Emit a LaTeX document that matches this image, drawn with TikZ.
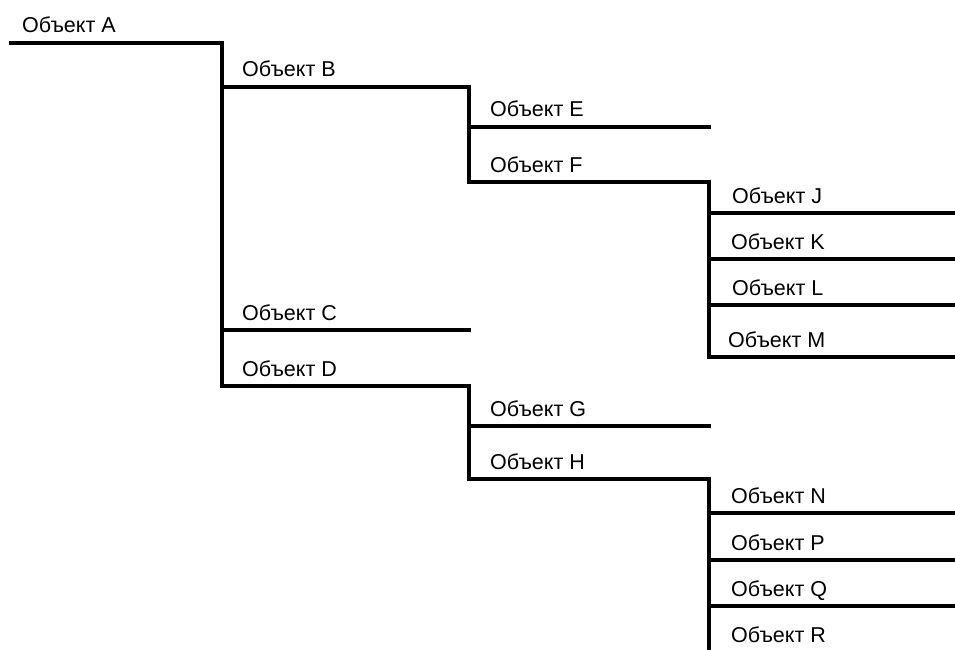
\documentclass[tikz,border=0pt]{standalone}
\usepackage{fontspec}
\setmainfont{Liberation Sans}
\begin{document}
\begin{tikzpicture}[x=1pt,y=-1pt,
  ln/.style={line width=3.2pt,line cap=rect,line join=miter},
  lbl/.style={anchor=base west,inner sep=0pt,font=\fontsize{21.5}{24}\selectfont}]
\useasboundingbox (0,0) rectangle (955,650);
% coordinates
\coordinate (a0) at (11,43);
\coordinate (a1) at (222,43);
\coordinate (b1) at (469,87);
\coordinate (c1) at (469,330);
\coordinate (d1) at (469,386);
\coordinate (e1) at (709,127);
\coordinate (f1) at (709,182);
\coordinate (g1) at (709,426);
\coordinate (h1) at (709,479);
\coordinate (j1) at (956,213);
\coordinate (k1) at (956,259);
\coordinate (l1) at (956,305);
\coordinate (m1) at (956,357);
\coordinate (n1) at (956,513);
\coordinate (p1) at (956,560);
\coordinate (q1) at (956,606);
\coordinate (bot) at (709,652);
% lines
\draw[ln] (a0) -- (a1) -- (a1 |- d1) -- (d1);
\draw[ln] (a1 |- b1) -- (b1);
\draw[ln] (a1 |- c1) -- (c1);
\draw[ln] (b1) -- (b1 |- f1) -- (f1);
\draw[ln] (b1 |- e1) -- (e1);
\draw[ln] (f1) -- (f1 |- m1) -- (m1);
\draw[ln] (f1 |- j1) -- (j1);
\draw[ln] (f1 |- k1) -- (k1);
\draw[ln] (f1 |- l1) -- (l1);
\draw[ln] (d1) -- (d1 |- h1) -- (h1) -- (bot);
\draw[ln] (d1 |- g1) -- (g1);
\draw[ln] (h1 |- n1) -- (n1);
\draw[ln] (h1 |- p1) -- (p1);
\draw[ln] (h1 |- q1) -- (q1);
% labels
\node[lbl] (la) at (22,33) {Объект A};
\node[lbl] (lb) at (242,77) {Объект B};
\node[lbl] (lc) at (242,320) {Объект C};
\node[lbl] (ld) at (242,376) {Объект D};
\node[lbl] (le) at (490,117) {Объект E};
\node[lbl] (lf) at (490,172) {Объект F};
\node[lbl] (lg) at (490,416) {Объект G};
\node[lbl] (lh) at (490,469) {Объект H};
\node[lbl] (lj) at (732,203) {Объект J};
\node[lbl] (lk) at (731,249) {Объект K};
\node[lbl] (ll) at (732,295) {Объект L};
\node[lbl] (lm) at (728,347) {Объект M};
\node[lbl] (ln) at (731,503) {Объект N};
\node[lbl] (lp) at (731,550) {Объект P};
\node[lbl] (lq) at (731,596) {Объект Q};
\node[lbl] (lr) at (731,642) {Объект R};
\end{tikzpicture}
\end{document}
